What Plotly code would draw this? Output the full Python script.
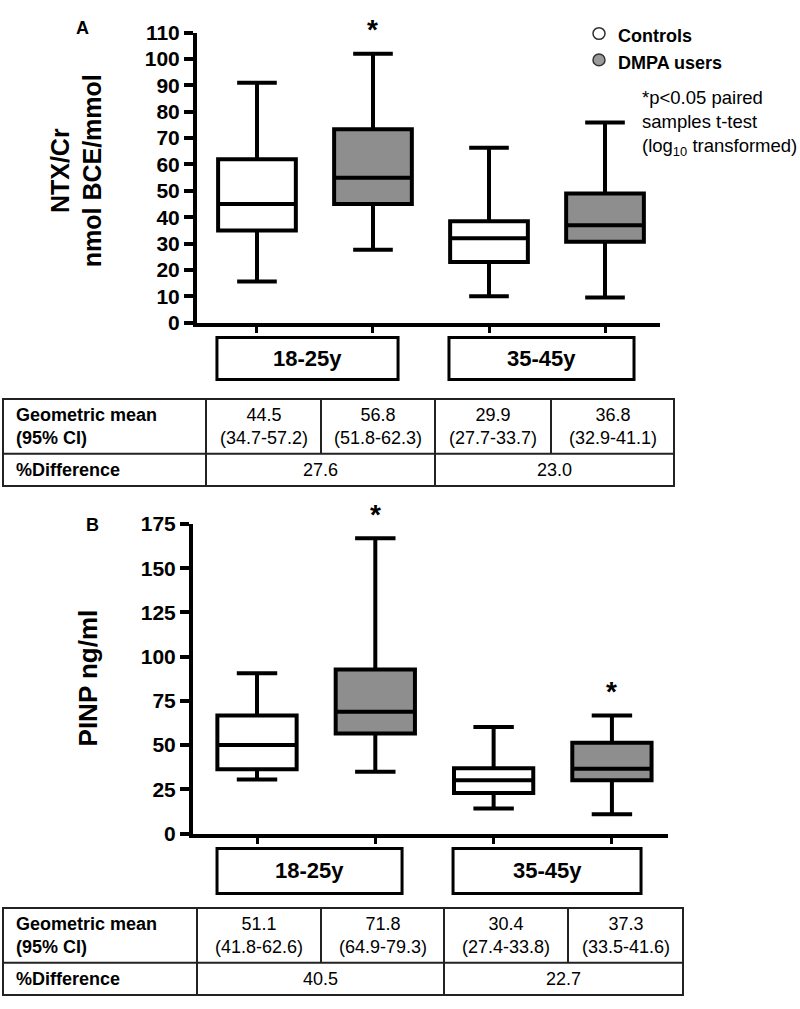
import plotly.graph_objects as go

W, H = 800, 1009

groups = ["18-25y", "35-45y"]
series = ["Controls", "DMPA users"]
series_colors = ["#ffffff", "#8e8e8e"]

# Panel A: NTX/Cr (nmol BCE/mmol) — order: 18-25 Ctrl, 18-25 DMPA, 35-45 Ctrl, 35-45 DMPA
a_lower = [15.6, 27.7, 10.0, 9.6]
a_q1 = [35.0, 45.0, 23.0, 30.7]
a_median = [45.0, 55.0, 32.0, 37.0]
a_q3 = [62.0, 73.3, 38.5, 49.0]
a_upper = [91.0, 102.0, 66.3, 75.9]
a_sig = [False, True, False, False]
a_geo = ["44.5", "56.8", "29.9", "36.8"]
a_ci = ["(34.7-57.2)", "(51.8-62.3)", "(27.7-33.7)", "(32.9-41.1)"]
a_diff = ["27.6", "23.0"]

# Panel B: PINP (ng/ml)
b_lower = [30.6, 35.0, 14.2, 10.9]
b_q1 = [36.3, 56.6, 22.9, 30.2]
b_median = [50.1, 68.9, 30.2, 36.7]
b_q3 = [66.7, 92.8, 36.9, 51.4]
b_upper = [90.6, 167.0, 60.2, 66.7]
b_sig = [False, True, False, True]
b_geo = ["51.1", "71.8", "30.4", "37.3"]
b_ci = ["(41.8-62.6)", "(64.9-79.3)", "(27.4-33.8)", "(33.5-41.6)"]
b_diff = ["40.5", "22.7"]

FONT = "Liberation Sans, Arial, Helvetica, sans-serif"


def px(x):
    return x / W


def py(y):
    return 1 - y / H


fig = go.Figure()
shapes = []
annotations = []


def ann(**kw):
    kw.setdefault("showarrow", False)
    kw.setdefault("xanchor", "center")
    kw.setdefault("yanchor", "middle")
    annotations.append(kw)


def panel(suffix, lower, q1, med, q3, upper, sig, yrange, dtick, xdom, ydom, xrange_, ylabel,
          ylabel_pos, ylabel_size, letter, letter_pos, cat_y, cat_boxes, table, geo, ci, diff):
    xa = "x" + suffix
    ya = "y" + suffix
    positions = list(range(len(med)))
    for s, name in enumerate(series):
        idx = [i for i in positions if i % 2 == s]
        fig.add_trace(go.Box(
            x=idx,
            q1=[q1[i] for i in idx],
            median=[med[i] for i in idx],
            q3=[q3[i] for i in idx],
            lowerfence=[lower[i] for i in idx],
            upperfence=[upper[i] for i in idx],
            name=name,
            width=0.67,
            whiskerwidth=0.51,
            fillcolor=series_colors[s],
            line=dict(color="black", width=4),
            boxpoints=False,
            hoverinfo="skip",
            xaxis=xa, yaxis=ya,
        ))
    for i in positions:
        if sig[i]:
            ann(x=i, y=upper[i], xref=xa, yref=ya, text="<b>*</b>", yshift=24,
                font=dict(size=28, color="black", family=FONT))
    xkey = "xaxis" + suffix
    ykey = "yaxis" + suffix
    fig.layout[xkey] = dict(domain=xdom, range=xrange_, anchor=ya, showline=True, linewidth=4,
                            linecolor="black", ticks="outside", tickvals=positions, ticklen=6,
                            tickwidth=3, tickcolor="black", showticklabels=False,
                            showgrid=False, zeroline=False, fixedrange=True)
    fig.layout[ykey] = dict(domain=ydom, range=yrange, anchor=xa, showline=True, linewidth=4,
                            linecolor="black", ticks="outside", dtick=dtick, tick0=0, ticklen=9,
                            tickwidth=4, tickcolor="black", showgrid=False, zeroline=False,
                            tickfont=dict(size=21, color="black", family=FONT, weight="bold"),
                            fixedrange=True)
    ann(x=px(ylabel_pos[0]), y=py(ylabel_pos[1]), xref="paper", yref="paper",
        text=ylabel, textangle=-90,
        font=dict(size=ylabel_size, color="black", family=FONT, weight="bold"))
    ann(x=px(letter_pos[0]), y=py(letter_pos[1]), xref="paper", yref="paper",
        text=letter, font=dict(size=18, color="black", family=FONT, weight="bold"))
    # category label boxes
    for g, (x0, x1) in zip(groups, cat_boxes):
        shapes.append(dict(type="rect", xref=xa, yref="paper", x0=x0, x1=x1,
                           y0=py(cat_y[0]), y1=py(cat_y[1]),
                           line=dict(color="black", width=3), fillcolor="white"))
        ann(x=(x0 + x1) / 2, y=py((cat_y[0] + cat_y[1]) / 2), xref=xa, yref="paper", text=g,
            font=dict(size=22, color="black", family=FONT, weight="bold"))
    # table
    top, mid, bot, cols = table
    lc = dict(color="#222222", width=2)
    shapes.append(dict(type="rect", xref="paper", yref="paper", x0=px(cols[0]), x1=px(cols[5]),
                       y0=py(bot), y1=py(top), line=lc))
    shapes.append(dict(type="line", xref="paper", yref="paper", x0=px(cols[0]), x1=px(cols[5]),
                       y0=py(mid), y1=py(mid), line=lc))
    for c in (cols[1], cols[3]):
        shapes.append(dict(type="line", xref="paper", yref="paper", x0=px(c), x1=px(c),
                           y0=py(bot), y1=py(top), line=lc))
    for c in (cols[2], cols[4]):
        shapes.append(dict(type="line", xref="paper", yref="paper", x0=px(c), x1=px(c),
                           y0=py(mid), y1=py(top), line=lc))
    tf = dict(size=18, color="black", family=FONT)
    tfb = dict(size=18, color="black", family=FONT, weight="bold")
    ann(x=px(cols[0] + 11), y=py((top + mid) / 2), xref="paper", yref="paper",
        xanchor="left", align="left", text="Geometric mean<br>(95% CI)", font=tfb)
    ann(x=px(cols[0] + 11), y=py((mid + bot) / 2), xref="paper", yref="paper",
        xanchor="left", align="left", text="%Difference", font=tfb)
    for i in range(4):
        ann(x=px((cols[i + 1] + cols[i + 2]) / 2), y=py((top + mid) / 2),
            xref="paper", yref="paper", text=geo[i] + "<br>" + ci[i], font=tf)
    for j in range(2):
        ann(x=px((cols[1 + 2 * j] + cols[3 + 2 * j]) / 2), y=py((mid + bot) / 2),
            xref="paper", yref="paper", text=diff[j], font=tf)


panel("", a_lower, a_q1, a_median, a_q3, a_upper, a_sig, [0, 110], 10,
      [px(197), px(660)], [py(318), py(21)], [-0.517, 3.474],
      "NTX/Cr<br>nmol BCE/mmol", (76, 163), 25, "A", (82, 16), (333, 376),
      [(-0.345, 1.216), (1.655, 3.25)],
      (396, 452, 485, [3, 206, 321, 435, 551, 674]), a_geo, a_ci, a_diff)

panel("2", b_lower, b_q1, b_median, b_q3, b_upper, b_sig, [0, 175], 25,
      [px(193), px(668)], [py(840.7), py(524)], [-0.541, 3.474],
      "PINP ng/ml", (88, 682), 26, "B", (92, 525), (856, 902),
      [(-0.338, 1.226), (1.657, 3.246)],
      (917, 973, 1006, [3, 197, 321, 444, 568, 683]), b_geo, b_ci, b_diff)

# legend
legend_fill = ["#ffffff", "#9a9a9a"]
for s, (name, yc) in enumerate(zip(series, (22, 49))):
    shapes.append(dict(type="circle", xref="paper", yref="paper",
                       x0=px(593), x1=px(605), y0=py(yc + 6), y1=py(yc - 6),
                       line=dict(color="#333333", width=1.5), fillcolor=legend_fill[s]))
    ann(x=px(616), y=py(yc + 3), xref="paper", yref="paper", xanchor="left",
        text=name, font=dict(size=18, color="black", family=FONT, weight="bold"))

ann(x=px(640), y=py(75), xref="paper", yref="paper", xanchor="left", yanchor="top",
    align="left", text="*p<0.05 paired<br>samples t-test<br>(log<sub>10</sub> transformed)",
    font=dict(size=18.5, color="black", family=FONT))

fig.update_layout(
    width=W, height=H, margin=dict(l=0, r=0, t=0, b=0),
    paper_bgcolor="white", plot_bgcolor="white",
    showlegend=False, boxmode="overlay",
    shapes=shapes, annotations=annotations,
    font=dict(family=FONT, color="black"),
)

post = (
    "document.documentElement.style.margin='0';"
    "document.documentElement.style.overflow='hidden';"
    "document.body.style.margin='0';"
    "document.body.style.overflow='hidden';"
    "var gd=document.getElementsByClassName('plotly-graph-div')[0];"
    "gd.style.position='absolute';gd.style.left='0px';gd.style.top='0px';"
)

fig.write_html("out.html", config={"displayModeBar": False}, post_script=post)
